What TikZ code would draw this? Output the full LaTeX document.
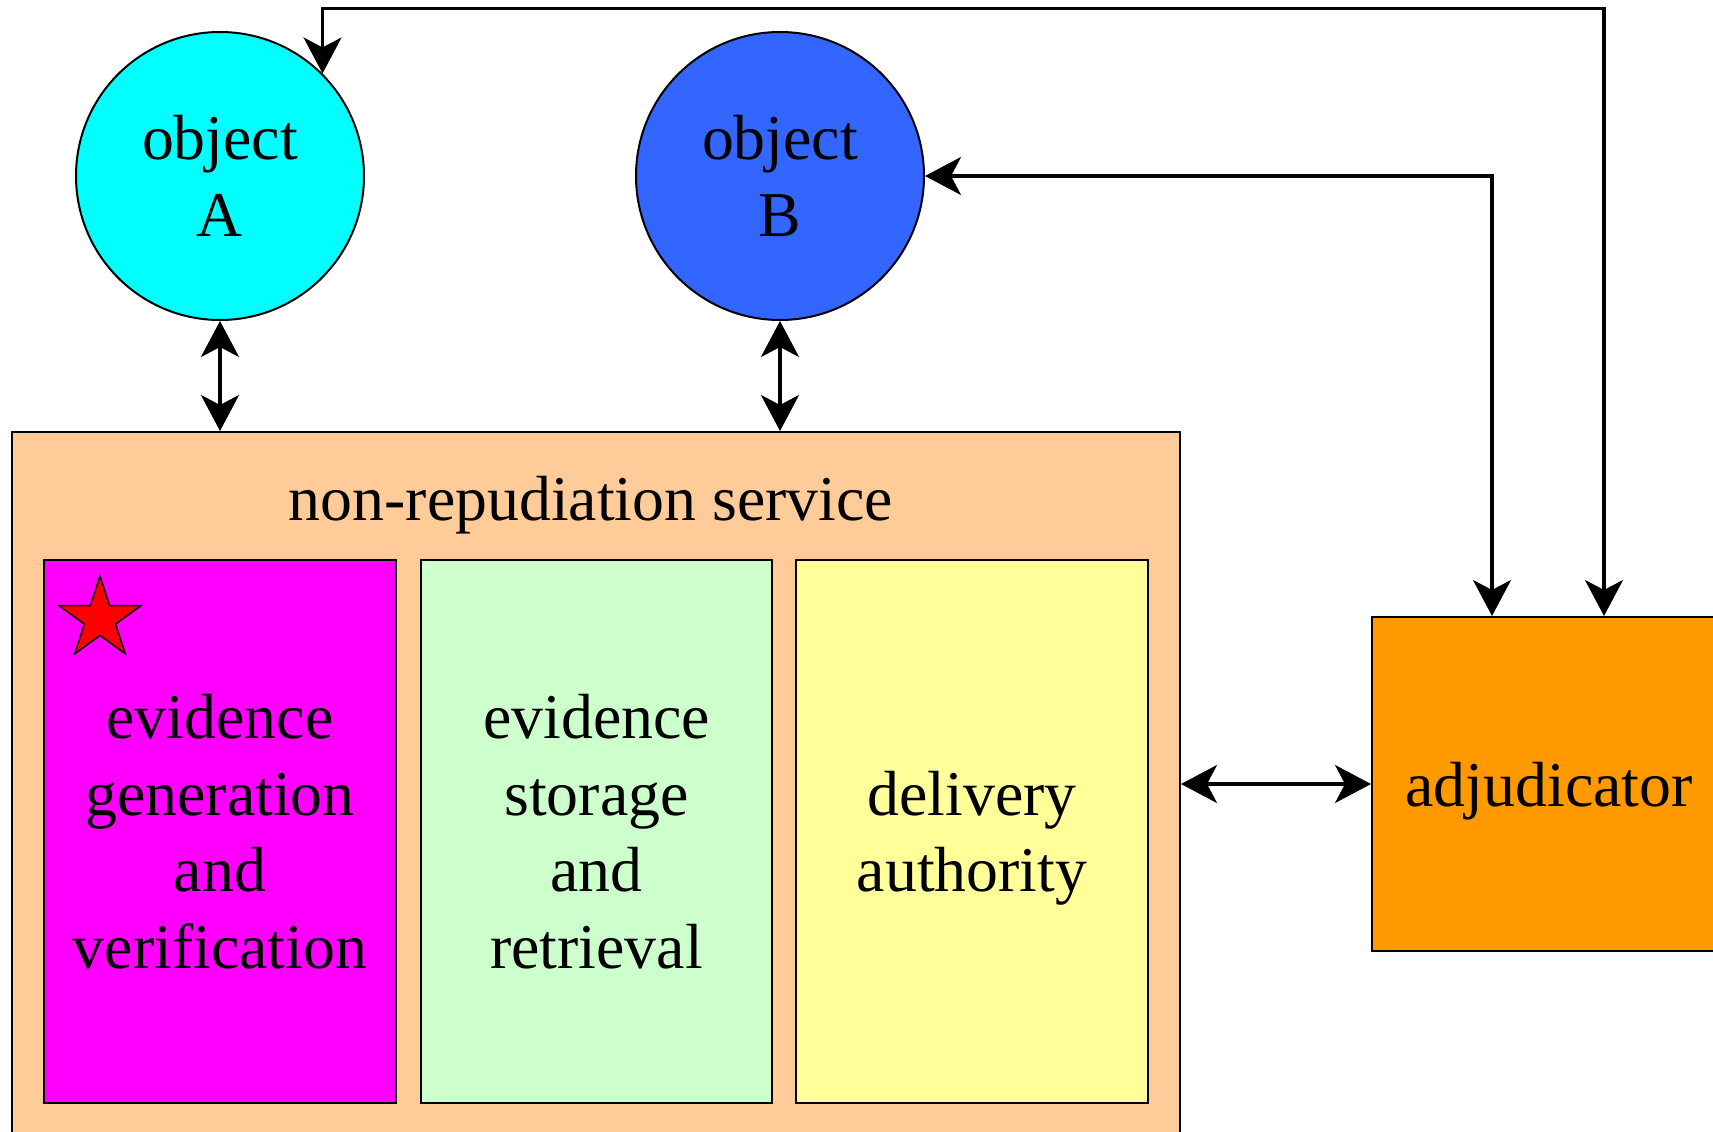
\documentclass[tikz,border=0pt]{standalone}
\usepackage{fontspec}
\setmainfont{Liberation Serif}
\usetikzlibrary{arrows.meta,shapes.geometric,calc}
\definecolor{cA}{HTML}{00FFFF}
\definecolor{cB}{HTML}{3366FF}
\definecolor{cSvc}{HTML}{FFCC99}
\definecolor{cMag}{HTML}{FF00FF}
\definecolor{cGrn}{HTML}{CCFFCC}
\definecolor{cYel}{HTML}{FFFF99}
\definecolor{cAdj}{HTML}{FF9900}
\begin{document}
\begin{tikzpicture}[x=1pt,y=-1pt,
  font=\fontsize{63.8}{76.5}\selectfont,
  obj/.style={circle,draw=black,line width=2pt,minimum size=288pt,inner sep=0pt,align=center,text depth=-6pt},
  box/.style={rectangle,draw=black,line width=2pt,inner sep=0pt,align=center},
  conn/.style={line width=3.3pt,>={Stealth[length=36pt,width=38pt,inset=10pt]}}]
\useasboundingbox (0,0) rectangle (1713,1132);
% service box
\node[box,fill=cSvc,minimum width=1168pt,minimum height=728pt] (svc) at (596,796) {};
\node[anchor=base] (svctitle) at (591,520) {non-repudiation service};
\node[box,fill=cMag,minimum width=352pt,minimum height=543pt,text depth=-6pt] (gen) at (220,831.5) {evidence\\generation\\and\\verification};
\node[box,fill=cGrn,minimum width=351pt,minimum height=543pt,text depth=-6pt] (sto) at (596.5,831.5) {evidence\\storage\\and\\retrieval};
\node[box,fill=cYel,minimum width=352pt,minimum height=543pt,text depth=-6pt] (del) at (972,831.5) {delivery\\authority};
\node[star,star points=5,star point ratio=2.618,draw=black,line width=1.5pt,fill=red,minimum size=86pt,inner sep=0pt] (star) at (100,619) {};
% objects
\node[obj,fill=cA] (A) at (220,176) {object\\A};
\node[obj,fill=cB] (B) at (780,176) {object\\B};
% adjudicator
\node[box,fill=cAdj,minimum width=354pt,minimum height=334pt,text depth=-2pt] (adj) at (1549,784) {adjudicator};
\coordinate (ajL) at ($(adj.north)+(-57,0)$);
\coordinate (ajR) at ($(adj.north)+(55,0)$);
\coordinate (topline) at (0,8.5);
% connectors
\draw[conn,<->] (A.south) -- (A.south |- svc.north);
\draw[conn,<->] (B.south) -- (B.south |- svc.north);
\draw[conn,<->] (A.45) |- (topline -| ajR) -- (ajR);
\draw[conn,<->] (B.east) -| (ajL);
\draw[conn,<->] (adj.west -| svc.east) -- (adj.west);
\end{tikzpicture}
\end{document}
